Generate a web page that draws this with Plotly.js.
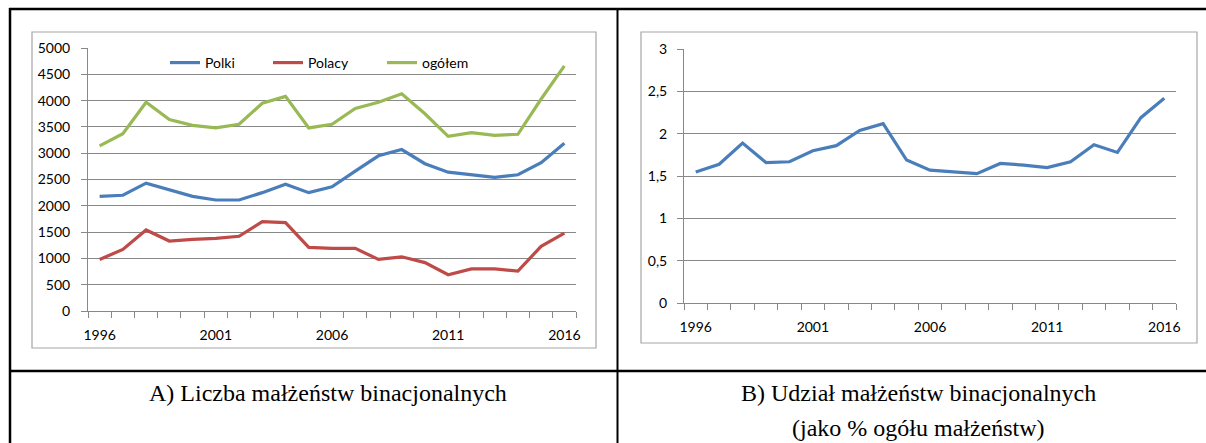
<!DOCTYPE html>
<html>
<head>
<meta charset="utf-8">
<script src="https://cdn.plot.ly/plotly-3.0.1.min.js"></script>
<style>html,body{margin:0;padding:0;background:#fff;}#chart{width:1206px;height:443px;}</style>
</head>
<body>
<div id="chart"></div>
<script>
var years = [1996,1997,1998,1999,2000,2001,2002,2003,2004,2005,2006,2007,2008,2009,2010,2011,2012,2013,2014,2015,2016];
var polki = [2180,2200,2430,2310,2180,2110,2110,2250,2410,2250,2360,2660,2950,3070,2800,2640,2590,2540,2590,2820,3190];
var polacy = [980,1170,1540,1330,1360,1380,1420,1700,1680,1210,1190,1190,980,1030,920,690,800,800,760,1230,1480];
var ogolem = [3140,3370,3970,3640,3530,3480,3550,3950,4080,3480,3550,3850,3970,4130,3750,3320,3390,3340,3360,4030,4660];
var udzial = [1.55,1.64,1.89,1.66,1.67,1.80,1.86,2.04,2.12,1.69,1.57,1.55,1.53,1.65,1.63,1.60,1.67,1.87,1.78,2.19,2.42];
var yearLabels = [1996,2001,2006,2011,2016];
var seriesNames = ['Polki','Polacy','ogółem'];
var captionA = 'A) Liczba małżeństw binacjonalnych';
var captionB1 = 'B) Udział małżeństw binacjonalnych';
var captionB2 = '(jako % ogółu małżeństw)';

var W = 1206, H = 443;
function px(x){return x/W;}
function py(y){return 1 - y/H;}

var cBlue='#4A7EBB', cRed='#BE4B48', cGreen='#98B954';
var gridC='#888888', axC='#888888';
var tickFont={family:'Lato, Liberation Sans, sans-serif', size:14, color:'#000'};
var capFont={family:'Liberation Serif, Times New Roman, serif', size:24, color:'#000'};

var traces = [
  {x:years, y:polki, name:seriesNames[0], type:'scatter', mode:'lines', line:{color:cBlue,width:3.2}, xaxis:'x', yaxis:'y', legend:'legend'},
  {x:years, y:polacy, name:seriesNames[1], type:'scatter', mode:'lines', line:{color:cRed,width:3.2}, xaxis:'x', yaxis:'y', legend:'legend2'},
  {x:years, y:ogolem, name:seriesNames[2], type:'scatter', mode:'lines', line:{color:cGreen,width:3.2}, xaxis:'x', yaxis:'y', legend:'legend3'},
  {x:years, y:udzial, name:'udział', type:'scatter', mode:'lines', line:{color:cBlue,width:3.2}, xaxis:'x2', yaxis:'y2', showlegend:false}
];

function xAxis(dom, anchor){
  return {domain:dom, anchor:anchor, range:[1995.5,2016.5], tickmode:'array', tickvals:yearLabels, ticktext:yearLabels.map(String),
    ticks:'', showgrid:false, zeroline:false, showline:true, linecolor:axC, linewidth:1, tickfont:tickFont, ticklen:0,
    ticklabelstandoff:11,
    minor:{tickmode:'linear', tick0:1995.5, dtick:1, ticks:'outside', ticklen:6, tickcolor:axC, tickwidth:1, showgrid:false},
    fixedrange:true};
}
function yAxis(dom, anchor, range, dtick, standoff){
  return {domain:dom, anchor:anchor, range:range, dtick:dtick, tick0:0, showgrid:true, gridcolor:gridC, gridwidth:1,
    zeroline:false, showline:true, linecolor:axC, linewidth:1, ticks:'outside', ticklen:6, tickcolor:axC,
    ticklabelstandoff:standoff, tickfont:tickFont, fixedrange:true};
}

var legendBase = {orientation:'h', yanchor:'middle', xanchor:'left', y:py(63), font:tickFont, bgcolor:'rgba(0,0,0,0)', borderwidth:0, itemwidth:30, tracegroupgap:0};

var layout = {
  width:W, height:H, margin:{l:0,r:0,t:0,b:0}, paper_bgcolor:'#fff', plot_bgcolor:'#fff',
  separators:', ',
  showlegend:true,
  xaxis: xAxis([px(88),px(576)],'y'),
  yaxis: yAxis([py(311),py(48)],'x',[0,5000],500,8),
  xaxis2: xAxis([px(684),px(1176)],'y2'),
  yaxis2: yAxis([py(303.3),py(49)],'x2',[0,3],0.5,7),
  legend: Object.assign({}, legendBase, {x:px(165)}),
  legend2: Object.assign({}, legendBase, {x:px(268)}),
  legend3: Object.assign({}, legendBase, {x:px(382)}),
  shapes:[
    {type:'rect', xref:'paper', yref:'paper', x0:px(32), x1:px(596), y0:py(348), y1:py(32), line:{color:'#a6a6a6', width:1.2}},
    {type:'rect', xref:'paper', yref:'paper', x0:px(641), x1:px(1197), y0:py(343), y1:py(32), line:{color:'#a6a6a6', width:1.2}},
    {type:'line', xref:'paper', yref:'paper', x0:px(9), x1:1, y0:py(9), y1:py(9), line:{color:'#000', width:2.5}},
    {type:'line', xref:'paper', yref:'paper', x0:px(10), x1:px(10), y0:py(8), y1:0, line:{color:'#000', width:2.5}},
    {type:'line', xref:'paper', yref:'paper', x0:px(617.5), x1:px(617.5), y0:py(8), y1:0, line:{color:'#000', width:2}},
    {type:'line', xref:'paper', yref:'paper', x0:px(9), x1:1, y0:py(371), y1:py(371), line:{color:'#000', width:2.5}}
  ],
  annotations:[
    {text:captionA, xref:'paper', yref:'paper', x:px(328), y:py(393), xanchor:'center', yanchor:'middle', showarrow:false, font:capFont},
    {text:captionB1, xref:'paper', yref:'paper', x:px(918), y:py(393), xanchor:'center', yanchor:'middle', showarrow:false, font:capFont},
    {text:captionB2, xref:'paper', yref:'paper', x:px(918), y:py(428), xanchor:'center', yanchor:'middle', showarrow:false, font:capFont}
  ]
};

Plotly.newPlot('chart', traces, layout, {staticPlot:true, displayModeBar:false});
</script>
</body>
</html>
